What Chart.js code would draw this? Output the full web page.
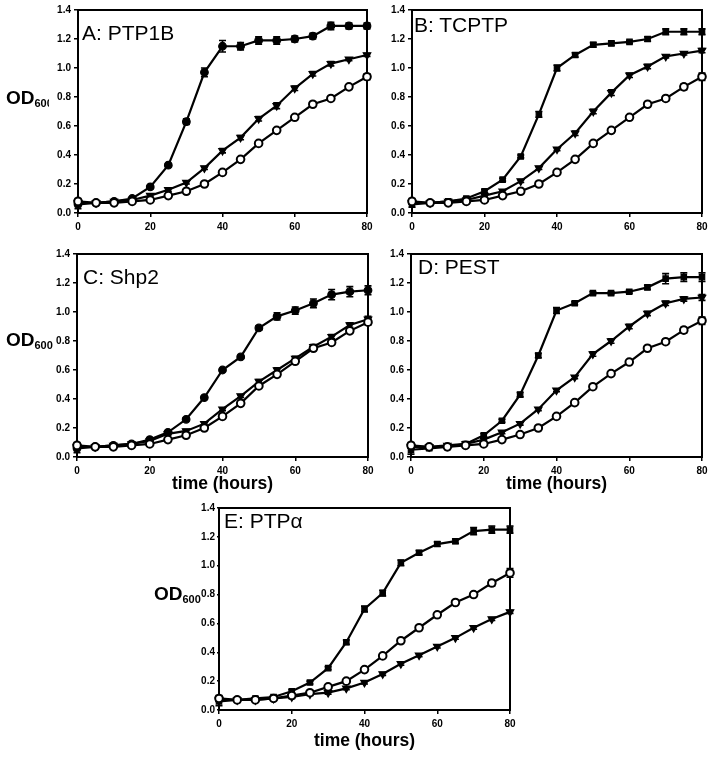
<!DOCTYPE html>
<html>
<head>
<meta charset="utf-8">
<script src="https://cdn.jsdelivr.net/npm/chart.js@4.4.1/dist/chart.umd.min.js"></script>
<style>
  body { margin: 0; background: #fff; }
  #lienzo { position: relative; width: 714px; height: 757px; overflow: hidden; background: #fff; }
  canvas { position: absolute; }
  .titulo { position: absolute; font-family: 'Liberation Sans', Arial, sans-serif; font-size: 21px; line-height: 21px; color: #000; white-space: nowrap; }
  .od { position: absolute; font-family: 'Liberation Sans', Arial, sans-serif; font-weight: bold; font-size: 19px; line-height: 22px; color: #000; white-space: nowrap; overflow: hidden; }
  .od span { font-size: 11px; vertical-align: -3px; }
</style>
</head>
<body>
<div id="lienzo">
  <canvas id="graficoA"></canvas>
  <canvas id="graficoB"></canvas>
  <canvas id="graficoC"></canvas>
  <canvas id="graficoD"></canvas>
  <canvas id="graficoE"></canvas>
  <div class="titulo" style="left:82px; top:22px;">A: PTP1B</div>
  <div class="titulo" style="left:414px; top:14px;">B: TCPTP</div>
  <div class="titulo" style="left:83px; top:266px;">C: Shp2</div>
  <div class="titulo" style="left:418px; top:256px;">D: PEST</div>
  <div class="titulo" style="left:224px; top:510px;">E: PTP&alpha;</div>
  <div class="od" style="left:6px; top:87px; width:43px;">OD<span>600</span></div>
  <div class="od" style="left:6px; top:329px;">OD<span>600</span></div>
  <div class="od" style="left:154px; top:583px;">OD<span>600</span></div>
</div>
<script>
// ====================================================================
// DATOS - crecimiento de levadura (OD600) frente al tiempo
// ====================================================================

const horas = [0, 5, 10, 15, 20, 25, 30, 35, 40, 45, 50, 55, 60, 65, 70, 75, 80];
const ticksY = [0.0, 0.2, 0.4, 0.6, 0.8, 1.0, 1.2, 1.4];
const ticksX = [0, 20, 40, 60, 80];

// Panel A: PTP1B
const aLleno    = [0.06, 0.07, 0.08, 0.10, 0.18, 0.33, 0.63, 0.97, 1.15, 1.15, 1.19, 1.19, 1.20, 1.22, 1.29, 1.29, 1.29];
const aTriangulo = [0.07, 0.07, 0.08, 0.09, 0.12, 0.16, 0.21, 0.31, 0.43, 0.52, 0.65, 0.74, 0.86, 0.96, 1.03, 1.06, 1.09];
const aAbierto  = [0.08, 0.07, 0.07, 0.08, 0.09, 0.12, 0.15, 0.20, 0.28, 0.37, 0.48, 0.57, 0.66, 0.75, 0.79, 0.87, 0.94];
const aLlenoErr    = [0.03, 0.01, 0.01, 0.01, 0.01, 0.01, 0.02, 0.03, 0.04, 0.025, 0.025, 0.025, 0.02, 0.02, 0.025, 0.02, 0.02];
const aTrianguloErr = [0.01, 0.005, 0.005, 0.01, 0.01, 0.01, 0.01, 0.01, 0.015, 0.015, 0.015, 0.02, 0.015, 0.015, 0.015, 0.01, 0.01];
const aAbiertoErr  = [0.02, 0.005, 0.005, 0.005, 0.01, 0.01, 0.01, 0.01, 0.01, 0.01, 0.01, 0.01, 0.01, 0.015, 0.01, 0.015, 0.02];

// Panel B: TCPTP
const bLleno    = [0.06, 0.07, 0.08, 0.10, 0.15, 0.23, 0.39, 0.68, 1.00, 1.09, 1.16, 1.17, 1.18, 1.20, 1.25, 1.25, 1.25];
const bTriangulo = [0.07, 0.07, 0.08, 0.09, 0.12, 0.15, 0.22, 0.31, 0.44, 0.55, 0.70, 0.83, 0.95, 1.01, 1.08, 1.10, 1.12];
const bAbierto  = [0.08, 0.07, 0.07, 0.08, 0.09, 0.12, 0.15, 0.20, 0.28, 0.37, 0.48, 0.57, 0.66, 0.75, 0.79, 0.87, 0.94];
const bLlenoErr    = [0.02, 0.01, 0.01, 0.01, 0.01, 0.01, 0.01, 0.02, 0.02, 0.015, 0.015, 0.015, 0.01, 0.015, 0.02, 0.02, 0.02];
const bTrianguloErr = [0.01, 0.005, 0.005, 0.01, 0.01, 0.01, 0.01, 0.01, 0.01, 0.015, 0.015, 0.02, 0.015, 0.015, 0.01, 0.01, 0.015];
const bAbiertoErr  = [0.02, 0.005, 0.005, 0.005, 0.01, 0.01, 0.01, 0.01, 0.01, 0.01, 0.01, 0.01, 0.01, 0.015, 0.015, 0.02, 0.025];

// Panel C: Shp2
const cLleno    = [0.06, 0.07, 0.08, 0.09, 0.12, 0.17, 0.26, 0.41, 0.60, 0.69, 0.89, 0.97, 1.01, 1.06, 1.12, 1.14, 1.15];
const cTriangulo = [0.07, 0.07, 0.08, 0.09, 0.11, 0.16, 0.18, 0.23, 0.33, 0.42, 0.52, 0.60, 0.68, 0.76, 0.83, 0.91, 0.95];
const cAbierto  = [0.08, 0.07, 0.07, 0.08, 0.09, 0.12, 0.15, 0.20, 0.28, 0.37, 0.49, 0.57, 0.66, 0.75, 0.79, 0.87, 0.93];
const cLlenoErr    = [0.03, 0.01, 0.01, 0.01, 0.01, 0.01, 0.01, 0.01, 0.01, 0.01, 0.015, 0.025, 0.025, 0.03, 0.035, 0.035, 0.03];
const cTrianguloErr = [0.01, 0.005, 0.005, 0.01, 0.01, 0.01, 0.01, 0.01, 0.01, 0.01, 0.015, 0.015, 0.015, 0.015, 0.015, 0.015, 0.02];
const cAbiertoErr  = [0.02, 0.005, 0.005, 0.005, 0.01, 0.01, 0.01, 0.01, 0.01, 0.01, 0.01, 0.01, 0.01, 0.01, 0.015, 0.015, 0.02];

// Panel D: PEST
const dLleno    = [0.05, 0.06, 0.07, 0.09, 0.15, 0.25, 0.43, 0.70, 1.01, 1.06, 1.13, 1.13, 1.14, 1.17, 1.23, 1.24, 1.24];
const dTriangulo = [0.07, 0.07, 0.08, 0.09, 0.12, 0.17, 0.23, 0.33, 0.46, 0.55, 0.71, 0.80, 0.90, 0.99, 1.06, 1.09, 1.10];
const dAbierto  = [0.08, 0.07, 0.07, 0.08, 0.09, 0.12, 0.155, 0.20, 0.28, 0.375, 0.485, 0.575, 0.655, 0.75, 0.795, 0.875, 0.94];
const dLlenoErr    = [0.03, 0.01, 0.01, 0.01, 0.01, 0.01, 0.015, 0.015, 0.02, 0.01, 0.01, 0.01, 0.01, 0.015, 0.035, 0.03, 0.03];
const dTrianguloErr = [0.01, 0.005, 0.005, 0.01, 0.01, 0.01, 0.01, 0.01, 0.01, 0.01, 0.015, 0.015, 0.015, 0.015, 0.015, 0.015, 0.02];
const dAbiertoErr  = [0.02, 0.005, 0.005, 0.005, 0.01, 0.01, 0.01, 0.01, 0.01, 0.01, 0.01, 0.01, 0.01, 0.015, 0.015, 0.02, 0.025];

// Panel E: PTPalfa
const eLleno    = [0.06, 0.07, 0.08, 0.09, 0.13, 0.19, 0.29, 0.47, 0.70, 0.81, 1.02, 1.09, 1.15, 1.17, 1.24, 1.25, 1.25];
const eTriangulo = [0.07, 0.07, 0.07, 0.08, 0.09, 0.11, 0.12, 0.15, 0.19, 0.25, 0.32, 0.38, 0.44, 0.50, 0.57, 0.63, 0.68];
const eAbierto  = [0.08, 0.07, 0.07, 0.08, 0.10, 0.12, 0.16, 0.20, 0.28, 0.375, 0.48, 0.57, 0.66, 0.745, 0.80, 0.88, 0.95];
const eLlenoErr    = [0.03, 0.01, 0.01, 0.01, 0.01, 0.01, 0.01, 0.015, 0.02, 0.02, 0.02, 0.015, 0.015, 0.015, 0.025, 0.025, 0.025];
const eTrianguloErr = [0.01, 0.005, 0.005, 0.01, 0.01, 0.01, 0.01, 0.01, 0.01, 0.01, 0.01, 0.01, 0.01, 0.01, 0.01, 0.01, 0.01];
const eAbiertoErr  = [0.02, 0.005, 0.005, 0.005, 0.01, 0.01, 0.01, 0.01, 0.01, 0.01, 0.01, 0.01, 0.01, 0.015, 0.015, 0.02, 0.03];

// ====================================================================
// PLUGINS
// ====================================================================

// Barras de error verticales con pequeño remate (debajo de los marcadores)
const pluginBarrasError = {
    id: 'barrasError',
    beforeDatasetsDraw(chart) {
        const ctx = chart.ctx;
        const escalaX = chart.scales.x;
        const escalaY = chart.scales.y;
        chart.data.datasets.forEach(ds => {
            if (!ds.errores) return;
            ctx.save();
            ctx.strokeStyle = '#000';
            ctx.lineWidth = 1.6;
            ds.data.forEach((p, i) => {
                const e = ds.errores[i];
                if (!e) return;
                const px = escalaX.getPixelForValue(p.x);
                const y1 = escalaY.getPixelForValue(p.y + e);
                const y2 = escalaY.getPixelForValue(p.y - e);
                ctx.beginPath();
                ctx.moveTo(px, y1); ctx.lineTo(px, y2);
                ctx.moveTo(px - 3.5, y1); ctx.lineTo(px + 3.5, y1);
                ctx.moveTo(px - 3.5, y2); ctx.lineTo(px + 3.5, y2);
                ctx.stroke();
            });
            ctx.restore();
        });
    }
};

// Marco completo alrededor del área de trazado
const pluginMarco = {
    id: 'marco',
    beforeDatasetsDraw(chart) {
        const a = chart.chartArea;
        const ctx = chart.ctx;
        ctx.save();
        ctx.strokeStyle = '#000';
        ctx.lineWidth = 2;
        ctx.strokeRect(a.left, a.top, a.right - a.left, a.bottom - a.top);
        ctx.restore();
    }
};

Chart.defaults.font.family = "'Liberation Sans', Arial, sans-serif";
Chart.defaults.color = '#000';

function aPuntos(valores) {
    return horas.map((h, i) => ({ x: h, y: valores[i] }));
}

// Función genérica para crear un panel
function crearPanel(canvasId, area, serie, estilo) {
    const canvas = document.getElementById(canvasId);
    const izq = area.l - estilo.anchoY;
    const arriba = area.t - 10;
    canvas.width = (area.r - area.l) + estilo.anchoY + 12;
    canvas.height = (area.b - area.t) + 10 + estilo.altoX;
    canvas.style.left = izq + 'px';
    canvas.style.top = arriba + 'px';

    const base = {
        borderColor: '#000',
        borderWidth: 2.2,
        tension: 0,
        clip: false,
        pointBorderColor: '#000',
        pointBorderWidth: 1.2
    };

    return new Chart(canvas.getContext('2d'), {
        type: 'line',
        data: {
            datasets: [
                Object.assign({}, base, {
                    label: 'abierto',
                    data: aPuntos(serie.abierto),
                    errores: serie.abiertoErr,
                    pointStyle: 'circle',
                    pointRadius: 3.8,
                    pointBackgroundColor: '#fff',
                    pointBorderWidth: 2
                }),
                Object.assign({}, base, {
                    label: 'triangulo',
                    data: aPuntos(serie.triangulo),
                    errores: serie.trianguloErr,
                    pointStyle: 'triangle',
                    pointRotation: 180,
                    pointRadius: 4.3,
                    pointBackgroundColor: '#000'
                }),
                Object.assign({}, base, {
                    label: 'lleno',
                    data: aPuntos(serie.lleno),
                    errores: serie.llenoErr,
                    pointStyle: estilo.marcaLleno,
                    pointRadius: 3.8,
                    pointBackgroundColor: '#000'
                })
            ]
        },
        options: {
            responsive: false,
            animation: false,
            layout: { padding: { left: 0, top: 10, right: 12, bottom: 0 } },
            plugins: {
                legend: { display: false },
                tooltip: { enabled: false }
            },
            scales: {
                x: {
                    type: 'linear',
                    min: 0,
                    max: 80,
                    afterFit: s => { s.height = estilo.altoX; },
                    afterBuildTicks: s => { s.ticks = ticksX.map(v => ({ value: v })); },
                    ticks: { font: { size: 10, weight: 'bold' }, padding: 4, maxRotation: 0 },
                    grid: { drawOnChartArea: false, drawTicks: true, tickLength: 4, color: '#000', lineWidth: 1.5 },
                    border: { display: true, color: '#000', width: 2 },
                    title: {
                        display: estilo.conTitulo,
                        text: 'time (hours)',
                        font: { size: 17.5, weight: 'bold' },
                        padding: { top: 0, bottom: estilo.padTitulo }
                    }
                },
                y: {
                    min: 0,
                    max: 1.4,
                    afterFit: s => { s.width = estilo.anchoY; },
                    afterBuildTicks: s => { s.ticks = ticksY.map(v => ({ value: v })); },
                    ticks: {
                        font: { size: 10, weight: 'bold' },
                        padding: estilo.padY,
                        callback: v => v.toFixed(1)
                    },
                    grid: { drawOnChartArea: false, drawTicks: true, tickLength: estilo.tickY, color: '#000', lineWidth: 1.5 },
                    border: { display: true, color: '#000', width: 2 }
                }
            }
        },
        plugins: [pluginMarco, pluginBarrasError]
    });
}

window.graficoA = crearPanel('graficoA', { l: 78, t: 10, r: 367, b: 213 },
    { lleno: aLleno, triangulo: aTriangulo, abierto: aAbierto, llenoErr: aLlenoErr, trianguloErr: aTrianguloErr, abiertoErr: aAbiertoErr },
    { anchoY: 78, altoX: 26, conTitulo: false, padTitulo: 0, marcaLleno: 'circle', padY: 3, tickY: 4 });

window.graficoB = crearPanel('graficoB', { l: 412, t: 10, r: 702, b: 213 },
    { lleno: bLleno, triangulo: bTriangulo, abierto: bAbierto, llenoErr: bLlenoErr, trianguloErr: bTrianguloErr, abiertoErr: bAbiertoErr },
    { anchoY: 42, altoX: 26, conTitulo: false, padTitulo: 0, marcaLleno: 'rect', padY: 3, tickY: 4 });

window.graficoC = crearPanel('graficoC', { l: 77, t: 254, r: 368, b: 457 },
    { lleno: cLleno, triangulo: cTriangulo, abierto: cAbierto, llenoErr: cLlenoErr, trianguloErr: cTrianguloErr, abiertoErr: cAbiertoErr },
    { anchoY: 77, altoX: 40, conTitulo: true, padTitulo: 2.5, marcaLleno: 'circle', padY: 3, tickY: 4 });

window.graficoD = crearPanel('graficoD', { l: 411, t: 254, r: 702, b: 457 },
    { lleno: dLleno, triangulo: dTriangulo, abierto: dAbierto, llenoErr: dLlenoErr, trianguloErr: dTrianguloErr, abiertoErr: dAbiertoErr },
    { anchoY: 42, altoX: 40, conTitulo: true, padTitulo: 2.5, marcaLleno: 'rect', padY: 3, tickY: 4 });

window.graficoE = crearPanel('graficoE', { l: 219, t: 508, r: 510, b: 710 },
    { lleno: eLleno, triangulo: eTriangulo, abierto: eAbierto, llenoErr: eLlenoErr, trianguloErr: eTrianguloErr, abiertoErr: eAbiertoErr },
    { anchoY: 60, altoX: 45, conTitulo: true, padTitulo: 3, marcaLleno: 'rect', padY: 2, tickY: 2 });
</script>
</body>
</html>
